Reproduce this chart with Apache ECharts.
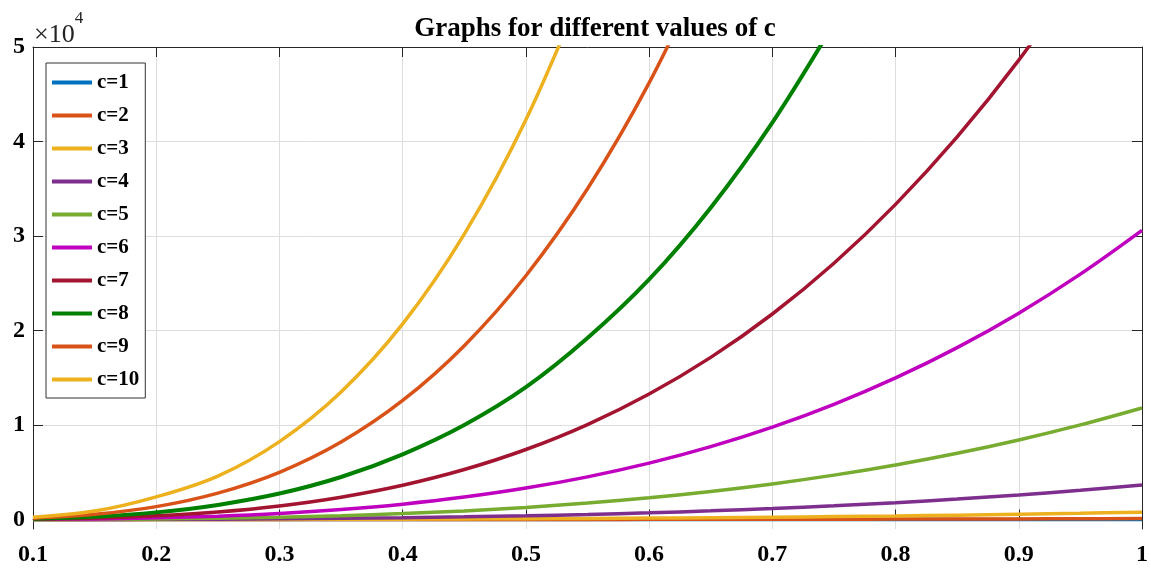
<!DOCTYPE html>
<html>
<head>
<meta charset="utf-8">
<script src="https://cdn.jsdelivr.net/npm/echarts@6/dist/echarts.min.js"></script>
<style>
html,body{margin:0;padding:0;background:#fff;}
#chart{width:1151px;height:573px;}
</style>
</head>
<body>
<div id="chart"></div>
<script>
// x sample points
const xs = [0.1,0.15,0.2,0.25,0.3,0.35,0.4,0.45,0.5,0.55,0.6,0.65,0.7,0.75,0.8,0.85,0.9,0.95,1.0];
// series values
const c1 = [0,0,0,0,0.1,0.1,0.2,0.2,0.3,0.4,0.6,0.8,1.0,1.2,1.5,1.8,2.1,2.5,3];
const c2 = [0.1,0.2,0.6,1.2,2.1,3.5,5.3,7.8,11,15,20,25,32,40,49,60,71,85,100];
const c3 = [0.5,2,5,9,17,27,42,61,85,115,152,197,249,311,382,464,557,662,780];
const c4 = [2,8,21,43,77,127,195,284,397,539,712,920,1166,1454,1787,2170,2605,3097,3650];
const c5 = [7,27,68,140,250,410,629,917,1284,1742,2301,2974,3769,4700,5778,7015,8423,10013,11800];
const c6 = [19,71,178,362,649,1064,1631,2378,3330,4517,5967,7711,9774,12190,14985,18190,21840,25970,30600];
const c7 = [43,157,395,806,1445,2370,3630,5290,7410,10050,13280,17160,21750,27120,33350,40480,48610,57790];
const c8 = [83,300,760,1550,2750,4500,6900,10000,14000,19200,25400,33000,42000,52500];
const c9 = [150,550,1370,2800,5000,8200,12600,18400,25800,35000,46200,59700];
const c10 = [245,900,2400,4600,8250,13500,20700,30200,42300,57400];
const seriesNames = ['c=1','c=2','c=3','c=4','c=5','c=6','c=7','c=8','c=9','c=10'];
const seriesValues = [c1,c2,c3,c4,c5,c6,c7,c8,c9,c10];
const colors = ['#0072BD','#D95319','#EDB120','#7E2F8E','#77AC30','#BF00BF','#A2142F','#008000','#D95319','#EDB120'];
const xTicks = [0.1,0.2,0.3,0.4,0.5,0.6,0.7,0.8,0.9,1];
const yTicks = [0,10000,20000,30000,40000,50000];

const FONT = '"Liberation Serif","Times New Roman",serif';
const axisColor = '#262626';

const chart = echarts.init(document.getElementById('chart'), null, {renderer:'canvas'});

const series = seriesValues.map((vals, i) => ({
  name: seriesNames[i],
  type: 'line',
  data: vals.map((v, j) => [xs[j], v]),
  showSymbol: false,
  symbol: 'none',
  smooth: 0.35,
  clip: true,
  color: colors[i],
  lineStyle: { width: i === 7 ? 4 : 3.5, color: colors[i] },
  emphasis: { disabled: true },
  xAxisIndex: 0, yAxisIndex: 0
}));

const option = {
  animation: false,
  backgroundColor: '#fff',
  title: {
    text: 'Graphs for different values of c',
    left: 590, textAlign: 'center', top: 11,
    textStyle: { fontFamily: FONT, fontWeight: 'bold', fontSize: 27, color: '#000' }
  },
  legend: {
    data: seriesNames,
    orient: 'vertical',
    left: 46, top: 63,
    icon: 'rect',
    itemWidth: 40, itemHeight: 4,
    itemGap: 12,
    padding: [9, 6, 8, 6],
    backgroundColor: '#fff',
    borderColor: '#333',
    borderWidth: 1,
    selectedMode: false,
    textStyle: { fontFamily: FONT, fontWeight: 'bold', fontSize: 21, color: '#000' }
  },
  graphic: [{
    type: 'text', left: 34, top: 10, z: 10,
    style: {
      text: '{a|×10}{b|4}',
      rich: {
        a: { fontFamily: FONT, fontSize: 26, fill: '#222', verticalAlign: 'bottom', padding:[12,0,0,0] },
        b: { fontFamily: FONT, fontSize: 17, fill: '#222', verticalAlign: 'top' }
      }
    }
  }],
  grid: { left: 33, right: 5, top: 47, bottom: 44, containLabel: false },
  xAxis: [{
    type: 'value', min: 0.1, max: 1, interval: 0.1,
    axisLine: { show: true, lineStyle: { color: axisColor, width: 1 } },
    axisTick: { show: true, inside: true, length: 10, lineStyle: { color: axisColor } },
    axisLabel: {
      margin: 14, fontFamily: FONT, fontWeight: 'bold', fontSize: 24, color: '#000',
      formatter: v => (Math.abs(v - 1) < 1e-9 ? '1' : v.toFixed(1))
    },
    splitLine: { show: true, lineStyle: { color: '#dedede', width: 1 } }
  }, {
    type: 'value', min: 0.1, max: 1, interval: 0.1, position: 'top',
    axisLine: { show: true, onZero: false, lineStyle: { color: axisColor, width: 1 } },
    axisTick: { show: true, inside: true, length: 10, lineStyle: { color: axisColor } },
    axisLabel: { show: false },
    splitLine: { show: false }
  }],
  yAxis: [{
    type: 'value', min: -1000, max: 50000,
    axisLine: { show: true, onZero: false, lineStyle: { color: axisColor, width: 1 } },
    axisTick: { show: true, inside: true, length: 10, customValues: yTicks, lineStyle: { color: axisColor } },
    axisLabel: {
      customValues: yTicks,
      margin: 8, fontFamily: FONT, fontWeight: 'bold', fontSize: 24, color: '#000',
      formatter: v => String(Math.round(v / 10000))
    },
    splitLine: { show: true, lineStyle: { color: '#dedede', width: 1 } }
  }, {
    type: 'value', min: -1000, max: 50000, position: 'right',
    axisLine: { show: true, onZero: false, lineStyle: { color: axisColor, width: 1 } },
    axisTick: { show: true, inside: true, length: 10, customValues: yTicks, lineStyle: { color: axisColor } },
    axisLabel: { show: false },
    splitLine: { show: false }
  }],
  series: series
};
chart.setOption(option);
</script>
</body>
</html>
